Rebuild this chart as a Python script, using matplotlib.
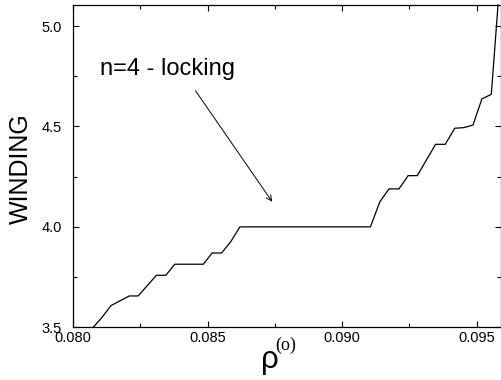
import numpy as np
import matplotlib
matplotlib.use("Agg")
import matplotlib.pyplot as plt

plt.rcParams['font.family'] = ['Liberation Sans', 'DejaVu Sans']

# traced curve: winding number vs rho^(o)
rho = [0.08075, 0.08107, 0.08141, 0.08209, 0.08242, 0.08310, 0.08345,
       0.08378, 0.08484, 0.08517, 0.08552, 0.08586, 0.08620, 0.09105,
       0.09140, 0.09174, 0.09211, 0.09245, 0.09279, 0.09313, 0.09347,
       0.09383, 0.09418, 0.09452, 0.09486, 0.09519, 0.09554, 0.09579]
winding = [3.500, 3.548, 3.608, 3.656, 3.656, 3.759, 3.759,
           3.814, 3.814, 3.870, 3.870, 3.926, 4.000, 4.000,
           4.125, 4.189, 4.189, 4.255, 4.255, 4.333, 4.411,
           4.411, 4.491, 4.494, 4.507, 4.637, 4.660, 5.105]

xticks = [0.080, 0.085, 0.090, 0.095]
yticks = [3.5, 4.0, 4.5, 5.0]

fig = plt.figure(figsize=(5.02, 3.80), dpi=100)
ax = fig.add_axes([0.1454, 0.1387, 0.998 - 0.1454, 0.986 - 0.1387])

ax.plot(rho, winding, color='black', lw=0.9, clip_on=False)

ax.set_xlim(0.080, 0.0959)
ax.set_ylim(3.5, 5.103)
ax.set_xticks(xticks)
ax.set_xticklabels(['%.3f' % v for v in xticks])
ax.set_xticks(np.arange(0.0825, 0.096, 0.005), minor=True)
ax.set_yticks(yticks)
ax.set_yticklabels(['%.1f' % v for v in yticks])
ax.set_yticks([3.75, 4.25, 4.75], minor=True)

ax.tick_params(which='both', direction='in', top=True, right=True,
               labelsize=10.5, width=0.8)
ax.tick_params(which='major', length=4)
ax.tick_params(which='minor', length=3)
ax.tick_params(axis='x', which='major', pad=3)
ax.tick_params(axis='y', which='major', pad=8)
for s in ax.spines.values():
    s.set_linewidth(0.9)

# annotation
ax.text(0.0810, 4.756, 'n=4 - locking', fontsize=17, ha='left', va='baseline')
ax.annotate('', xy=(0.0874, 4.125), xytext=(0.08455, 4.678),
            arrowprops=dict(arrowstyle='->', lw=0.7, color='black',
                            shrinkA=0, shrinkB=0))

# axis labels
fig.text(20.5 / 502, 1 - 169 / 380, 'WINDING', rotation=90, fontsize=18,
         ha='center', va='center')
fig.text(261 / 502, 1 - 368 / 380, 'ρ', fontsize=22.5, ha='left', va='baseline')
fig.text(275 / 502, 1 - 349.5 / 380, '(o)', fontsize=13, ha='left',
         va='baseline', family=['Liberation Serif', 'DejaVu Serif'])

fig.savefig('out.png', dpi=100)
